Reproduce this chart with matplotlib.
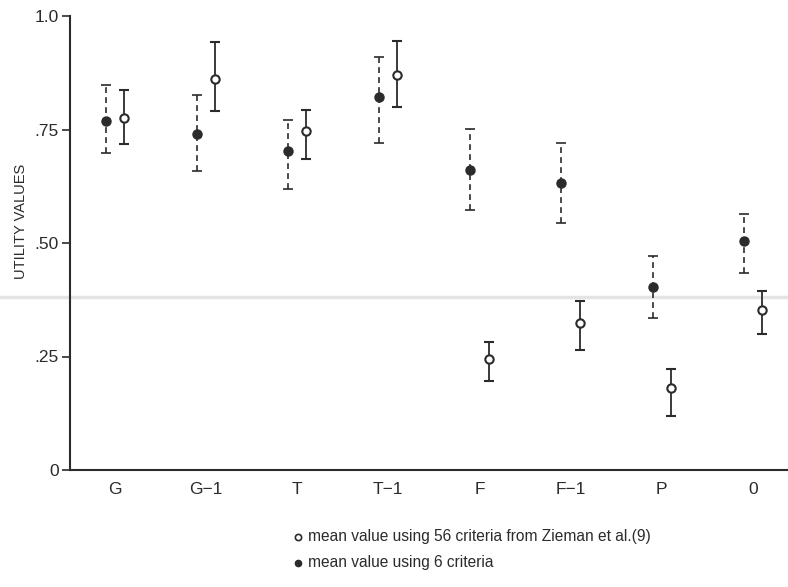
import matplotlib
matplotlib.use("Agg")
import matplotlib.pyplot as plt
from matplotlib.lines import Line2D
import numpy as np

plt.rcParams['font.family'] = ['Liberation Sans', 'DejaVu Sans']

categories = ["G", "G\u22121", "T", "T\u22121", "F", "F\u22121", "P", "0"]

# 6 criteria (filled, dashed bars)
six_mean = [0.769, 0.741, 0.703, 0.822, 0.661, 0.633, 0.404, 0.505]
six_upper = [0.848, 0.827, 0.771, 0.910, 0.751, 0.720, 0.471, 0.564]
six_lower = [0.699, 0.659, 0.620, 0.721, 0.573, 0.544, 0.334, 0.435]

# 56 criteria (open, solid bars)
z_mean = [0.775, 0.861, 0.746, 0.870, 0.244, 0.323, 0.180, 0.352]
z_upper = [0.836, 0.942, 0.794, 0.945, 0.282, 0.372, 0.223, 0.395]
z_lower = [0.718, 0.791, 0.685, 0.800, 0.195, 0.264, 0.119, 0.300]

yticks = [0, 0.25, 0.50, 0.75, 1.0]
ytick_labels = ["0", ".25", ".50", ".75", "1.0"]

ink = "#2b2b2b"

fig = plt.figure(figsize=(7.88, 5.87), dpi=100)

# scan fold line across page
fig.add_artist(Line2D([0, 1], [1-297/587, 1-297/587], transform=fig.transFigure,
                      color='#e4e4e4', linewidth=2.5, zorder=0))

ax = fig.add_axes([70/788, 1-470/587, 718/788, 454/587])
ax.patch.set_alpha(0)

x = np.arange(len(categories))
off = 0.1

six_mean_a = np.array(six_mean)
z_mean_a = np.array(z_mean)
six_err = [six_mean_a - np.array(six_lower), np.array(six_upper) - six_mean_a]
z_err = [z_mean_a - np.array(z_lower), np.array(z_upper) - z_mean_a]

eb1 = ax.errorbar(x - off, six_mean, yerr=six_err, fmt='o', color=ink,
                  markersize=6.5, markerfacecolor=ink, markeredgecolor=ink,
                  ecolor=ink, elinewidth=1.2, capsize=3.5, capthick=1.2)
for lc in eb1[2]:
    lc.set_linestyle((0, (3.5, 2.5)))

eb2 = ax.errorbar(x + off, z_mean, yerr=z_err, fmt='o', color=ink,
                  markersize=6, markerfacecolor='white', markeredgecolor=ink,
                  markeredgewidth=1.5,
                  ecolor=ink, elinewidth=1.3, capsize=3.5, capthick=1.3)

ax.set_xlim(-0.494, 7.387)
ax.set_ylim(0, 1.0)
ax.set_xticks(x)
ax.set_xticklabels(categories, fontsize=12.5)
ax.tick_params(axis='x', length=0, pad=9, colors=ink)
ax.set_yticks(yticks)
ax.set_yticklabels(ytick_labels, fontsize=12.5)
ax.tick_params(axis='y', length=6, width=1.2, direction='out', pad=2, colors=ink)
for s in ['top', 'right']:
    ax.spines[s].set_visible(False)
for s in ['left', 'bottom']:
    ax.spines[s].set_color(ink)
    ax.spines[s].set_linewidth(1.5)

fig.text(21/788, 1-221/587, "UTILITY VALUES", rotation=90, ha='center',
         va='center', fontsize=10.5, color=ink)

# legend
fig.add_artist(Line2D([298/788], [1-537/587], transform=fig.transFigure,
                      marker='o', markersize=4.5, markerfacecolor='white',
                      markeredgecolor=ink, markeredgewidth=1.2, linestyle='none'))
fig.text(308/788, 1-537/587, "mean value using 56 criteria from Zieman et al.(9)",
         ha='left', va='center', fontsize=11.2, color=ink)
fig.add_artist(Line2D([298/788], [1-563/587], transform=fig.transFigure,
                      marker='o', markersize=4.5, markerfacecolor=ink,
                      markeredgecolor=ink, linestyle='none'))
fig.text(308/788, 1-563/587, "mean value using 6 criteria",
         ha='left', va='center', fontsize=11.2, color=ink)

fig.savefig("out.png", dpi=100)
